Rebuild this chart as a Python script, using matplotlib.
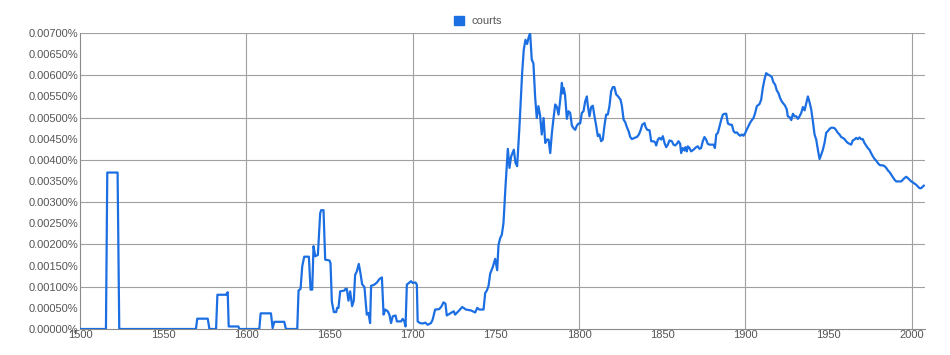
import matplotlib
matplotlib.use('Agg')
from matplotlib import pyplot as plt
from matplotlib.patches import Patch
from matplotlib.ticker import FuncFormatter, MultipleLocator

# values (percent)
years = [
    1500, 1515.6, 1516.4, 1522.6, 1523.6, 1569.7, 1570.5, 1576.8, 1577.8,
    1581.8, 1582.6, 1587.8, 1588.8, 1589.4, 1595.2, 1595.8, 1607.8, 1608.6,
    1614.8, 1615.8, 1616.8, 1622.8, 1623.8, 1630.6, 1631.4, 1632.6, 1633.6,
    1634.8, 1637.6, 1638.6, 1639.6, 1640.4, 1641.4, 1643.0, 1644.4, 1645.0,
    1646.4, 1647.4, 1650.0, 1650.6, 1651.4, 1652.6, 1654.0, 1654.6, 1655.4,
    1656.4, 1659.0, 1659.6, 1660.4, 1661.4, 1662.4, 1663.6, 1664.6, 1665.4,
    1666.4, 1667.6, 1668.6, 1669.6, 1671.0, 1672.4, 1673.4, 1674.4, 1675.0,
    1677.0, 1678.5, 1680.0, 1681.5, 1682.5, 1683.5, 1685.0, 1686.0, 1687.0,
    1688.0, 1689.7, 1690.5, 1693.0, 1694.0, 1695.0, 1695.7, 1696.5, 1699.0,
    1700.0, 1701.7, 1702.5, 1703.0, 1704.4, 1706.0, 1707.6, 1709.0, 1711.0,
    1712.0, 1713.5, 1716.0, 1717.4, 1718.5, 1719.7, 1720.5, 1723.0, 1724.7,
    1725.5, 1727.0, 1729.8, 1732.0, 1735.0, 1736.0, 1737.6, 1738.8, 1740.0,
    1742.6, 1743.6, 1744.6, 1745.6, 1746.6, 1748.2, 1749.6, 1750.8, 1751.6,
    1752.6, 1753.6, 1754.6, 1755.8, 1757.2, 1758.2, 1759.2, 1760.8, 1761.8,
    1762.8, 1764.2, 1765.8, 1766.8, 1767.8, 1768.8, 1769.6, 1770.6, 1771.6,
    1772.6, 1773.6, 1774.6, 1775.6, 1776.6, 1777.6, 1778.7, 1779.7, 1780.7,
    1781.7, 1782.7, 1783.7, 1784.7, 1785.7, 1786.7, 1787.7, 1788.7, 1789.7,
    1790.3, 1790.8, 1791.6, 1792.7, 1793.7, 1794.7, 1795.7, 1796.7, 1797.7,
    1798.7, 1799.7, 1800.7, 1801.7, 1802.7, 1803.7, 1804.7, 1805.3, 1806.3,
    1807.3, 1808.3, 1809.3, 1810.3, 1811.3, 1812.3, 1813.3, 1814.3, 1815.3,
    1816.3, 1817.3, 1818.3, 1819.3, 1820.3, 1821.3, 1822.3, 1823.7, 1825.0,
    1825.8, 1826.8, 1827.8, 1828.8, 1829.8, 1830.8, 1831.8, 1833.4, 1834.8,
    1836.0, 1837.0, 1838.0, 1839.4, 1840.0, 1841.0, 1842.4, 1843.4, 1844.8,
    1845.8, 1846.4, 1847.4, 1848.4, 1849.4, 1850.4, 1851.4, 1852.4, 1853.4,
    1854.4, 1855.8, 1856.8, 1857.8, 1858.8, 1859.8, 1860.8, 1861.4, 1862.4,
    1863.4, 1864.0, 1864.8, 1865.4, 1866.4, 1867.4, 1868.8, 1870.4, 1871.4,
    1872.4, 1873.4, 1874.4, 1875.4, 1876.4, 1877.4, 1878.4, 1879.9, 1880.9,
    1881.7, 1882.5, 1883.5, 1884.5, 1885.5, 1886.5, 1887.5, 1888.5, 1889.5,
    1890.9, 1891.9, 1892.9, 1893.9, 1894.9, 1895.9, 1896.9, 1897.9, 1898.9,
    1900.0, 1901.0, 1901.9, 1902.9, 1903.9, 1904.9, 1905.9, 1906.9, 1908.5,
    1909.5, 1910.5, 1911.5, 1912.5, 1913.5, 1914.9, 1915.9, 1916.9, 1917.9,
    1918.9, 1919.9, 1920.9, 1921.9, 1922.9, 1923.9, 1924.9, 1925.5, 1926.6,
    1927.6, 1928.6, 1929.6, 1930.6, 1931.6, 1932.6, 1933.6, 1934.6, 1935.6,
    1936.6, 1937.6, 1938.6, 1939.6, 1940.6, 1941.6, 1942.6, 1943.6, 1944.6,
    1945.6, 1946.6, 1947.6, 1948.6, 1949.6, 1950.6, 1951.6, 1952.6, 1953.6,
    1954.6, 1955.6, 1956.6, 1957.6, 1958.6, 1959.6, 1960.6, 1961.6, 1962.6,
    1963.6, 1964.6, 1965.6, 1966.6, 1967.6, 1968.6, 1969.6, 1970.6, 1971.6,
    1972.6, 1973.6, 1974.6, 1975.6, 1976.7, 1977.7, 1978.7, 1979.7, 1980.7,
    1981.7, 1982.7, 1983.7, 1984.7, 1985.7, 1986.7, 1987.7, 1988.7, 1989.7,
    1990.7, 1992.7, 1993.7, 1994.7, 1995.7, 1996.7, 1997.7, 1998.7, 1999.7,
    2000.6, 2001.7, 2002.7, 2003.7, 2004.7, 2005.7, 2006.7, 2007.3,
]
courts = [
    0, 0, 0.00370, 0.00370, 0, 0, 0.000244, 0.000244, 0,
    0, 0.00081, 0.00081, 0.00087, 0.00006, 0.00006, 0, 0, 0.00037,
    0.00037, 0.00002, 0.00017, 0.00017, 0, 0, 0.00091, 0.00095, 0.00148,
    0.00171, 0.00171, 0.00093, 0.00093, 0.00196, 0.00172, 0.00175, 0.00274, 0.00281,
    0.00281, 0.00164, 0.00162, 0.00156, 0.00065, 0.00040, 0.00040, 0.00050, 0.00050,
    0.00089, 0.00091, 0.00095, 0.00095, 0.00067, 0.00089, 0.00054, 0.00067, 0.00128,
    0.00136, 0.00154, 0.00132, 0.00106, 0.00099, 0.00034, 0.00038, 0.00014, 0.00102,
    0.00105, 0.00110, 0.00118, 0.00122, 0.00034, 0.00046, 0.00042, 0.00034, 0.00014,
    0.00030, 0.00032, 0.00018, 0.00018, 0.00024, 0.00018, 0.00006, 0.00105, 0.00113,
    0.00109, 0.00110, 0.00105, 0.00018, 0.00014, 0.00013, 0.00015, 0.00010, 0.00014,
    0.00022, 0.00046, 0.00047, 0.00054, 0.00063, 0.00060, 0.00032, 0.00038, 0.00042,
    0.00034, 0.00040, 0.00052, 0.00046, 0.00044, 0.00042, 0.00039, 0.00050, 0.00046,
    0.00046, 0.00085, 0.00091, 0.00102, 0.00131, 0.00147, 0.00166, 0.00139, 0.00199,
    0.00215, 0.00223, 0.00251, 0.00337, 0.00426, 0.00381, 0.00408, 0.00424, 0.00393,
    0.00385, 0.00479, 0.00605, 0.00661, 0.00684, 0.00674, 0.00688, 0.00700, 0.00637,
    0.00628, 0.00550, 0.00499, 0.00527, 0.00505, 0.00460, 0.00499, 0.00440, 0.00448,
    0.00448, 0.00416, 0.00464, 0.00499, 0.00531, 0.00525, 0.00507, 0.00542, 0.00582,
    0.00557, 0.00570, 0.00554, 0.00497, 0.00515, 0.00511, 0.00481, 0.00475, 0.00471,
    0.00481, 0.00486, 0.00486, 0.00511, 0.00515, 0.00538, 0.00550, 0.00528, 0.00503,
    0.00525, 0.00528, 0.00503, 0.00481, 0.00456, 0.00460, 0.00444, 0.00448, 0.00481,
    0.00507, 0.00507, 0.00527, 0.00562, 0.00572, 0.00572, 0.00555, 0.00549, 0.00542,
    0.00527, 0.00495, 0.00489, 0.00477, 0.00468, 0.00454, 0.00449, 0.00452, 0.00454,
    0.00460, 0.00470, 0.00483, 0.00487, 0.00478, 0.00471, 0.00470, 0.00444, 0.00444,
    0.00441, 0.00434, 0.00448, 0.00452, 0.00448, 0.00456, 0.00440, 0.00430, 0.00436,
    0.00446, 0.00444, 0.00436, 0.00434, 0.00438, 0.00444, 0.00438, 0.00416, 0.00428,
    0.00422, 0.00430, 0.00420, 0.00432, 0.00428, 0.00420, 0.00424, 0.00430, 0.00432,
    0.00426, 0.00428, 0.00444, 0.00454, 0.00448, 0.00438, 0.00436, 0.00436, 0.00436,
    0.00428, 0.00460, 0.00464, 0.00479, 0.00495, 0.00507, 0.00509, 0.00509, 0.00486,
    0.00483, 0.00483, 0.00468, 0.00464, 0.00465, 0.00460, 0.00457, 0.00460, 0.00457,
    0.00464, 0.00473, 0.00480, 0.00488, 0.00494, 0.00499, 0.00511, 0.00527, 0.00532,
    0.00542, 0.00570, 0.00590, 0.00605, 0.00602, 0.00599, 0.00596, 0.00583, 0.00578,
    0.00564, 0.00558, 0.00546, 0.00538, 0.00533, 0.00528, 0.00519, 0.00503, 0.00501,
    0.00494, 0.00509, 0.00503, 0.00503, 0.00497, 0.00503, 0.00511, 0.00525, 0.00517,
    0.00534, 0.00550, 0.00536, 0.00519, 0.00491, 0.00460, 0.00448, 0.00424, 0.00402,
    0.00412, 0.00424, 0.00440, 0.00464, 0.00468, 0.00473, 0.00476, 0.00476, 0.00475,
    0.00470, 0.00464, 0.00460, 0.00454, 0.00452, 0.00449, 0.00444, 0.00440, 0.00438,
    0.00436, 0.00446, 0.00448, 0.00452, 0.00449, 0.00453, 0.00449, 0.00449, 0.00440,
    0.00434, 0.00428, 0.00424, 0.00416, 0.00408, 0.00402, 0.00398, 0.00392, 0.00388,
    0.00387, 0.00387, 0.00385, 0.00381, 0.00375, 0.00371, 0.00365, 0.00359, 0.00353,
    0.00349, 0.00349, 0.00349, 0.00353, 0.00357, 0.00360, 0.00357, 0.00353, 0.00349,
    0.00347, 0.00344, 0.00341, 0.00337, 0.00333, 0.00333, 0.00337, 0.00339,
]
series_name = 'courts'

blue = '#1c6fe3'
grid_gray = '#a0a0a0'
text_gray = '#555555'

plt.rcParams['font.family'] = ['Liberation Sans', 'DejaVu Sans']

fig = plt.figure(figsize=(9.5, 3.55), dpi=100)
ax = fig.add_axes([80 / 950, 26 / 355, 845 / 950, 296 / 355])

ax.plot(years, courts, color=blue, lw=1.6, solid_joinstyle='round', zorder=3)

ax.set_xlim(1500, 2008)
ax.set_ylim(0, 0.007)

ax.xaxis.set_major_locator(MultipleLocator(50))
ax.yaxis.set_major_locator(MultipleLocator(0.0005))
ax.yaxis.set_major_formatter(FuncFormatter(lambda v, p: '%.5f%%' % v))

# gridlines: every 0.001 horizontally, every 100 years vertically
for v in [0.001, 0.002, 0.003, 0.004, 0.005, 0.006, 0.007]:
    ax.axhline(v, color=grid_gray, lw=0.8, zorder=1)
for yr in [1600, 1700, 1800, 1900, 2000]:
    ax.axvline(yr, color=grid_gray, lw=0.8, zorder=1)

for s in ['top', 'right']:
    ax.spines[s].set_visible(False)
for s in ['left', 'bottom']:
    ax.spines[s].set_color('#8a8a8a')
    ax.spines[s].set_linewidth(0.8)

ax.tick_params(axis='both', length=0, labelsize=8, colors=text_gray)
ax.tick_params(axis='y', pad=1)
ax.tick_params(axis='x', pad=1)

fig.legend(handles=[Patch(facecolor=blue, edgecolor=blue)], labels=[series_name],
           loc='center', bbox_to_anchor=(478 / 950, 1 - 21 / 355), frameon=False,
           fontsize=8, labelcolor=text_gray, handlelength=0.9, handleheight=0.9,
           handletextpad=0.6)

fig.savefig('out.png', dpi=100)
